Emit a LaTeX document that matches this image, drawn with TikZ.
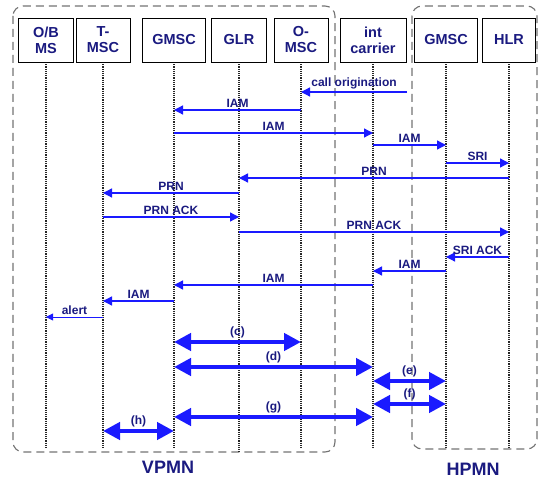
\documentclass[tikz,border=0pt]{standalone}
\usepackage{fontspec}
\setmainfont{Liberation Sans}
\usetikzlibrary{arrows.meta}
\definecolor{txt}{HTML}{1A1A80}
\definecolor{arr}{HTML}{1A1AFF}
\begin{document}
\begin{tikzpicture}[x=1pt,y=-1pt,
 hdr/.style={draw=black, line width=0.8pt, fill=white, minimum height=44pt, inner sep=0pt, align=center, font=\fontsize{14.5}{16}\selectfont\bfseries, text=txt},
 life/.style={densely dotted, draw=black!85, line width=1.2pt},
 msg/.style={draw=arr, line width=1.3pt, -{Triangle[length=9pt,width=9pt]}},
 thinmsg/.style={draw=arr, line width=0.9pt, -{Triangle[length=7pt,width=7pt]}},
 big/.style={draw=arr, line width=4.8pt, {Triangle[length=17pt,width=17pt]}-{Triangle[length=17pt,width=17pt]}},
 lbl/.style={above, font=\fontsize{12}{13}\selectfont\bfseries, text=txt, inner sep=2pt},
 zone/.style={draw=black!55, dash pattern=on 8pt off 5pt, line width=1.1pt, rounded corners=10pt},
 zlbl/.style={font=\fontsize{18}{20}\selectfont\bfseries, text=txt}]
\useasboundingbox (0,0) rectangle (541,478);
% zones
\draw[zone] (13,6) rectangle (335,452);
\draw[zone] (412,6) rectangle (537,449);
\node[zlbl] (vpmn) at (168,467) {VPMN};
\node[zlbl] (hpmn) at (473,469) {HPMN};
% lifelines
\foreach \x in {46,103,174,301,373,446,509}
  \draw[life] (\x,62) -- (\x,448);
\draw[life] (239,62) -- (239,452);
% headers
\node[hdr, minimum width=55pt] (obms) at (46,40) {O/B\\MS};
\node[hdr, minimum width=54pt] (tmsc) at (103,40) {T-\\MSC};
\node[hdr, minimum width=63pt] (gmsc) at (174,40) {GMSC};
\node[hdr, minimum width=55pt] (glr) at (239,40) {GLR};
\node[hdr, minimum width=54pt] (omsc) at (301,40) {O-\\MSC};
\node[hdr, minimum width=66pt] (int) at (373,40) {int\\carrier};
\node[hdr, minimum width=63pt] (gmsch) at (446,40) {GMSC};
\node[hdr, minimum width=53pt] (hlr) at (509,40) {HLR};
% messages
\coordinate (co) at (407,92);
\draw[msg] (co) -- (omsc |- co) node[lbl,midway]{call origination};
\draw[msg] (omsc |- 0,110) -- (gmsc |- 0,110) node[lbl,midway]{IAM};
\draw[msg] (gmsc |- 0,133) -- (int |- 0,133) node[lbl,midway]{IAM};
\draw[msg] (int |- 0,145) -- (gmsch |- 0,145) node[lbl,midway]{IAM};
\draw[msg] (gmsch |- 0,163) -- (hlr |- 0,163) node[lbl,midway]{SRI};
\draw[msg] (hlr |- 0,178) -- (glr |- 0,178) node[lbl,midway]{PRN};
\draw[msg] (glr |- 0,193) -- (tmsc |- 0,193) node[lbl,midway]{PRN};
\draw[msg] (tmsc |- 0,217) -- (glr |- 0,217) node[lbl,midway]{PRN ACK};
\draw[msg] (glr |- 0,232) -- (hlr |- 0,232) node[lbl,midway]{PRN ACK};
\draw[msg] (hlr |- 0,257) -- (gmsch |- 0,257) node[lbl,midway]{SRI ACK};
\draw[msg] (gmsch |- 0,271) -- (int |- 0,271) node[lbl,midway]{IAM};
\draw[msg] (int |- 0,285) -- (gmsc |- 0,285) node[lbl,midway]{IAM};
\draw[msg] (gmsc |- 0,301) -- (tmsc |- 0,301) node[lbl,midway]{IAM};
\draw[thinmsg] (tmsc |- 0,317) -- (obms |- 0,317) node[lbl,midway]{alert};
% bearer connections
\draw[big] (gmsc |- 0,342) -- (omsc |- 0,342) node[lbl,midway]{(c)};
\draw[big] (gmsc |- 0,367) -- (int |- 0,367) node[lbl,midway]{(d)};
\draw[big] (int |- 0,381) -- (gmsch |- 0,381) node[lbl,midway]{(e)};
\draw[big] (int |- 0,404) -- (gmsch |- 0,404) node[lbl,midway]{(f)};
\draw[big] (gmsc |- 0,417) -- (int |- 0,417) node[lbl,midway]{(g)};
\draw[big] (tmsc |- 0,431) -- (gmsc |- 0,431) node[lbl,midway]{(h)};
\end{tikzpicture}
\end{document}
